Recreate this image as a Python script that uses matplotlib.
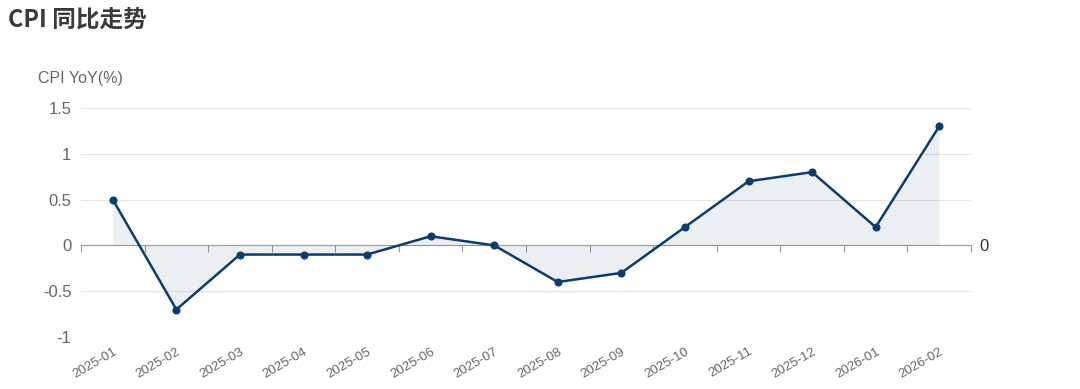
import numpy as np
import matplotlib
matplotlib.use("Agg")
import matplotlib.pyplot as plt

plt.rcParams['font.family'] = ['Liberation Sans', 'Noto Sans CJK SC', 'DejaVu Sans']

# 数据
months = ['2025-01', '2025-02', '2025-03', '2025-04', '2025-05', '2025-06', '2025-07',
          '2025-08', '2025-09', '2025-10', '2025-11', '2025-12', '2026-01', '2026-02']
cpi_yoy = [0.5, -0.7, -0.1, -0.1, -0.1, 0.1, 0.0, -0.4, -0.3, 0.2, 0.7, 0.8, 0.2, 1.3]
yticks = [-1, -0.5, 0, 0.5, 1, 1.5]
ytick_labels = ['-1', '-0.5', '0', '0.5', '1', '1.5']

line_color = '#0c3c6c'
grid_color = '#e4e4e4'
text_color = '#666666'

fig = plt.figure(figsize=(10.8, 3.89), dpi=100)
ax = fig.add_axes([81/1080, 1-337/389, 890/1080, 229/389])

x = np.arange(len(months))
ax.fill_between(x, cpi_yoy, 0, color=line_color, alpha=0.08, linewidth=0)
ax.plot(x, cpi_yoy, color=line_color, linewidth=1.8, marker='o', markersize=4.8, zorder=3)

ax.set_xlim(-0.5, len(months) - 0.5)
ax.set_ylim(-1, 1.5)

# 网格与坐标轴
ax.set_yticks(yticks)
ax.set_yticklabels(ytick_labels)
for y in yticks:
    if y != 0:
        ax.axhline(y, color=grid_color, linewidth=0.8, zorder=0)
for s in ax.spines.values():
    s.set_visible(False)
ax.tick_params(axis='y', length=0, pad=7, labelsize=12, labelcolor=text_color)
ax.set_xticks(x)
ax.set_xticklabels(months, rotation=30, ha='right', rotation_mode='anchor')
ax.tick_params(axis='x', length=0, pad=6, labelsize=9.5, labelcolor=text_color)

# 零轴（类目分隔刻度）
zero_ax = ax.secondary_xaxis(0.4)
zero_ax.set_xticks(np.arange(len(months) + 1) - 0.5)
zero_ax.set_xticklabels([])
zero_ax.tick_params(axis='x', direction='out', length=5, width=0.8, color='#999999')
zero_ax.spines['bottom'].set_color('#999999')
zero_ax.spines['bottom'].set_linewidth(0.8)

right_ax = ax.secondary_yaxis('right')
right_ax.set_yticks([0])
right_ax.set_yticklabels(['0'])
right_ax.tick_params(axis='y', length=0, pad=6, labelsize=12, labelcolor='#333333')
right_ax.spines['right'].set_visible(False)

fig.text(38/1080, 1-78/389, 'CPI YoY(%)', fontsize=11.5, color=text_color, va='center', ha='left')
fig.text(8/1080, 1-20/389, 'CPI 同比走势', fontsize=17, fontweight='bold', color='#3a3a3a',
         va='center', ha='left', family=['Noto Sans CJK SC', 'DejaVu Sans'])

plt.savefig('out.png', dpi=100)
